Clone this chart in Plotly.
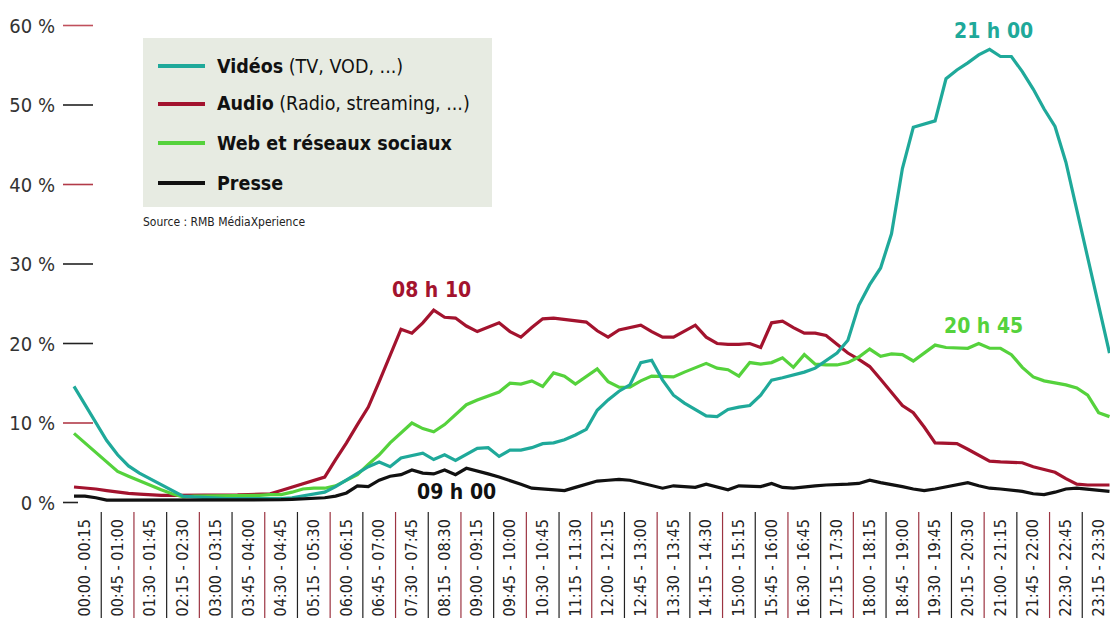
import plotly.graph_objects as go

# ---------------- data (share of audience, %, per 15-minute slot) ----------------
tick_labels = [
    "00:00 - 00:15", "00:45 - 01:00", "01:30 - 01:45", "02:15 - 02:30",
    "03:00 - 03:15", "03:45 - 04:00", "04:30 - 04:45", "05:15 - 05:30",
    "06:00 - 06:15", "06:45 - 07:00", "07:30 - 07:45", "08:15 - 08:30",
    "09:00 - 09:15", "09:45 - 10:00", "10:30 - 10:45", "11:15 - 11:30",
    "12:00 - 12:15", "12:45 - 13:00", "13:30 - 13:45", "14:15 - 14:30",
    "15:00 - 15:15", "15:45 - 16:00", "16:30 - 16:45", "17:15 - 17:30",
    "18:00 - 18:15", "18:45 - 19:00", "19:30 - 19:45", "20:15 - 20:30",
    "21:00 - 21:15", "21:45 - 22:00", "22:30 - 22:45", "23:15 - 23:30",
]

videos = [
    14.6, 12.3, 10.0, 7.8, 6.0, 4.6, 3.7, 3.0, 2.3, 1.5,
    0.8, 0.7, 0.6, 0.6, 0.5, 0.5, 0.5, 0.4, 0.4, 0.5,
    0.6, 0.8, 1.0, 1.3, 2.0, 2.8, 3.7, 4.5, 5.1, 4.5,
    5.6, 5.9, 6.2, 5.4, 6.0, 5.3, 6.0, 6.8, 6.9, 5.8,
    6.6, 6.6, 6.9, 7.4, 7.5, 7.9, 8.5, 9.2, 11.6, 12.9,
    14.0, 14.8, 17.6, 17.9, 15.4, 13.5, 12.5, 11.7, 10.9, 10.8,
    11.7, 12.0, 12.2, 13.5, 15.4, 15.7, 16.0, 16.4, 16.9, 17.8,
    18.8, 20.4, 24.8, 27.4, 29.5, 33.8, 42.0, 47.2, 47.6, 48.0,
    53.3, 54.4, 55.3, 56.3, 57.0, 56.1, 56.1, 54.2, 52.0, 49.5,
    47.3, 42.8, 36.8, 30.8, 24.5, 18.8,
]

audio = [
    1.95, 1.85, 1.7, 1.5, 1.3, 1.15, 1.05, 0.95, 0.9, 0.9,
    0.9, 0.9, 0.9, 0.9, 0.9, 0.95, 1.0, 1.0, 1.1, 1.5,
    1.9, 2.3, 2.7, 3.2, 5.4, 7.5, 9.8, 12.0, 15.2, 18.6,
    21.8, 21.3, 22.6, 24.2, 23.3, 23.2, 22.2, 21.5, 22.0, 22.6,
    21.5, 20.8, 22.0, 23.1, 23.2, 23.0, 22.9, 22.7, 21.6, 20.8,
    21.7, 22.0, 22.3, 21.5, 20.8, 20.8, 21.5, 22.3, 20.8, 20.0,
    19.9, 19.9, 20.0, 19.5, 22.6, 22.8, 22.0, 21.3, 21.3, 21.0,
    19.9, 18.8, 18.0, 17.1, 15.5, 13.9, 12.2, 11.3, 9.5, 7.5,
    7.4, 7.4, 6.7, 6.0, 5.2, 5.1, 5.0, 5.0, 4.5, 4.2,
    3.8, 3.0, 2.3, 2.2, 2.2, 2.2,
]

web = [
    8.7, 7.5, 6.3, 5.1, 3.9, 3.3, 2.7, 2.2, 1.6, 1.1,
    0.7, 0.8, 0.8, 0.8, 0.8, 0.9, 0.9, 0.9, 1.0, 1.0,
    1.3, 1.7, 1.8, 1.8, 2.1, 2.8, 3.5, 4.8, 6.0, 7.5,
    8.8, 10.0, 9.3, 8.9, 9.8, 11.0, 12.3, 12.9, 13.4, 13.9,
    15.0, 14.9, 15.3, 14.6, 16.3, 15.9, 14.9, 15.8, 16.8, 15.2,
    14.5, 14.5, 15.3, 15.9, 15.8, 15.8, 16.4, 17.0, 17.5, 16.9,
    16.7, 15.9, 17.6, 17.4, 17.6, 18.2, 17.0, 18.6, 17.4, 17.3,
    17.3, 17.6, 18.3, 19.3, 18.4, 18.7, 18.6, 17.8, 18.8, 19.8,
    19.5, 19.5, 19.4, 20.0, 19.4, 19.4, 18.6, 17.0, 15.8, 15.3,
    15.1, 14.8, 14.4, 13.5, 11.3, 10.8,
]

presse = [
    0.8, 0.8, 0.6, 0.3, 0.3, 0.3, 0.3, 0.3, 0.3, 0.3,
    0.3, 0.3, 0.3, 0.3, 0.3, 0.3, 0.3, 0.3, 0.35, 0.35,
    0.4, 0.5, 0.5, 0.6, 0.8, 1.2, 2.1, 2.0, 2.8, 3.3,
    3.5, 4.1, 3.7, 3.6, 4.1, 3.5, 4.3, 4.0, 3.6, 3.2,
    2.8, 2.3, 1.8, 1.7, 1.5, 1.5, 1.9, 2.3, 2.7, 2.8,
    2.9, 2.8, 2.5, 2.2, 1.8, 2.1, 2.0, 1.9, 2.3, 2.0,
    1.6, 2.1, 2.1, 2.0, 2.4, 1.9, 1.8, 1.9, 2.1, 2.2,
    2.2, 2.3, 2.4, 2.8, 2.5, 2.3, 2.0, 1.7, 1.5, 1.7,
    2.0, 2.2, 2.5, 2.1, 1.8, 1.7, 1.6, 1.4, 1.1, 1.0,
    1.3, 1.7, 1.8, 1.7, 1.6, 1.4,
]

series_names = ["Vidéos", "Audio", "Web et réseaux sociaux", "Presse"]
series_notes = [" (TV, VOD, ...)", " (Radio, streaming, ...)", "", ""]
series_colors = ["#1fa99a", "#a3132e", "#55d23c", "#111111"]

y_ticks = [0, 10, 20, 30, 40, 50, 60]
y_tick_colors = ["#222222", "#b23a48", "#222222", "#222222", "#b23a48", "#222222", "#c0505c"]

peak_labels = ["08 h 10", "09 h 00", "21 h 00", "20 h 45"]
peak_series = [1, 3, 0, 2]
peak_label_x = [32.8, 35.1, 84.4, 83.4]
peak_label_y = [26.7, 1.3, 59.3, 22.2]

source_text = "Source : RMB MédiaXperience"

# ---------------- layout geometry ----------------
W, H = 1110, 618
L, R, T, B = 68, 0, 5, 103
FIRST_PX, SLOT_PX = 74.0, 10.9
ZERO_PX, UNIT_PX = 502.5, 7.95

x_range = [(L - FIRST_PX) / SLOT_PX, (W - R - FIRST_PX) / SLOT_PX]
y_range = [-(H - B - ZERO_PX) / UNIT_PX, (ZERO_PX - T) / UNIT_PX]


def px_x(p):
    return (p - L) / (W - L - R)


def px_y(p):
    return (H - B - p) / (H - T - B)


FONT = "DejaVu Sans Condensed, Liberation Sans Narrow, Arial Narrow, sans-serif"

series_values = [videos, audio, web, presse]
x_idx = list(range(len(videos)))

fig = go.Figure()
for k in [1, 2, 0, 3]:
    fig.add_trace(go.Scatter(
        x=x_idx, y=series_values[k], mode="lines", name=series_names[k],
        line=dict(color=series_colors[k], width=3.2), showlegend=False,
        hoverinfo="skip",
    ))

shapes = []
# y tick marks
for v, c in zip(y_ticks, y_tick_colors):
    shapes.append(dict(type="line", xref="paper", yref="y",
                       x0=px_x(63), x1=px_x(78 if v == 0 else 93), y0=v, y1=v,
                       line=dict(color=c, width=1.6)))
# separators between x labels
for k in range(len(tick_labels) - 1):
    xs = 3 * k + 2.5
    shapes.append(dict(type="line", xref="x", yref="paper",
                       x0=xs, x1=xs, y0=px_y(512), y1=px_y(618),
                       line=dict(color="#222222" if k % 2 == 0 else "#9c3442", width=1.2)))
# legend box
shapes.append(dict(type="rect", xref="paper", yref="paper",
                   x0=px_x(143), x1=px_x(492), y0=px_y(207), y1=px_y(38),
                   fillcolor="#e7ebe2", line=dict(width=0), layer="below"))
legend_rows = [66, 104, 143, 183]
annotations = []
for i, row in enumerate(legend_rows):
    shapes.append(dict(type="line", xref="paper", yref="paper",
                       x0=px_x(158), x1=px_x(205), y0=px_y(row), y1=px_y(row),
                       line=dict(color=series_colors[i], width=4)))
    annotations.append(dict(xref="paper", yref="paper", x=px_x(215), y=px_y(row),
                            xanchor="left", yanchor="middle", showarrow=False,
                            text="<b>" + series_names[i] + "</b>" + series_notes[i],
                            font=dict(family=FONT, size=19.5, color="#111111")))
annotations.append(dict(xref="paper", yref="paper", x=px_x(141), y=px_y(222),
                        xanchor="left", yanchor="middle", showarrow=False,
                        text=source_text, font=dict(family=FONT, size=12, color="#222222")))
for lab, s, lx, ly in zip(peak_labels, peak_series, peak_label_x, peak_label_y):
    annotations.append(dict(xref="x", yref="y", x=lx, y=ly, showarrow=False,
                            xanchor="center", yanchor="middle",
                            text="<b>" + lab + "</b>",
                            font=dict(family=FONT, size=21, color=series_colors[s])))

fig.update_layout(
    width=W, height=H,
    margin=dict(l=L, r=R, t=T, b=B, pad=0, autoexpand=False),
    paper_bgcolor="white", plot_bgcolor="white",
    shapes=shapes, annotations=annotations,
    showlegend=False,
    xaxis=dict(range=x_range, tickmode="array",
               tickvals=[3 * k + 1 for k in range(len(tick_labels))],
               ticktext=tick_labels, tickangle=-90, automargin=False,
               showgrid=False, zeroline=False, showline=False, ticks="",
               tickfont=dict(family=FONT, size=16, color="#222222"),
               fixedrange=True),
    yaxis=dict(range=y_range, tickmode="array", tickvals=y_ticks,
               ticktext=[f"{v} %" for v in y_ticks], automargin=False,
               showgrid=False, zeroline=False, showline=False,
               ticks="outside", ticklen=8, tickcolor="rgba(0,0,0,0)",
               tickfont=dict(family=FONT, size=20, color="#333333"),
               fixedrange=True),
)

fig.write_html(
    "out.html",
    config={"displayModeBar": False},
    post_script="document.body.style.margin='0px';document.body.style.overflow='hidden';",
)
